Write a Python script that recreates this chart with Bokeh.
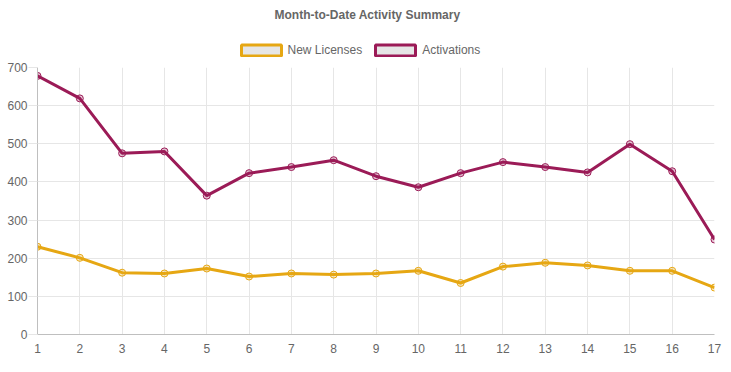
from bokeh.plotting import figure
from bokeh.models import (Range1d, SingleIntervalTicker, Legend, LegendItem, Title)
from bokeh.layouts import column
from bokeh.embed import file_html
from bokeh.resources import INLINE

# ---- data ----
days = [1, 2, 3, 4, 5, 6, 7, 8, 9, 10, 11, 12, 13, 14, 15, 16, 17]
new_licenses = [230, 201, 162, 160, 173, 152, 160, 157, 160, 167, 135, 178, 188, 181, 167, 167, 123]
activations = [678, 619, 475, 480, 364, 423, 439, 457, 415, 386, 423, 452, 439, 425, 499, 428, 249]
series_names = ["New Licenses", "Activations"]
title_text = "Month-to-Date Activity Summary"

LIC_C = "#e6a713"
ACT_C = "#9b1b57"
FONT = "Liberation Sans"
TXT = "#666666"

# ---- header: title + legend ----
header = figure(width=725, height=59, output_backend="svg", toolbar_location=None,
                x_range=Range1d(0, 725), y_range=Range1d(0, 59),
                x_axis_type=None, y_axis_type=None,
                min_border_left=0, min_border_right=0, min_border_top=25, min_border_bottom=0)
header.title = Title(text=title_text, align="left", offset=237, text_font=FONT,
                     text_font_size="12px", text_font_style="bold", text_color=TXT,
                     standoff=8)
header.outline_line_color = None
header.background_fill_color = "white"

q1 = header.quad(left=[-100], right=[-90], top=[-100], bottom=[-90], fill_color="#e6e6e6",
                 line_color=LIC_C, line_width=3)
q2 = header.quad(left=[-100], right=[-90], top=[-100], bottom=[-90], fill_color="#e6e6e6",
                 line_color=ACT_C, line_width=3)

legend = Legend(items=[LegendItem(label=series_names[0], renderers=[q1]),
                       LegendItem(label=series_names[1], renderers=[q2])],
                orientation="horizontal", location=(198.5, 2),
                glyph_width=50, glyph_height=14, label_height=14,
                label_standoff=2, spacing=8, padding=0, margin=0,
                border_line_color=None, background_fill_alpha=0,
                label_text_font=FONT, label_text_font_size="12px",
                label_text_color=TXT)
header.add_layout(legend, "center")

# ---- main chart ----
p = figure(width=725, height=307, output_backend="svg", toolbar_location=None,
           x_range=Range1d(1, 17), y_range=Range1d(0, 700),
           min_border_left=37, min_border_right=11, min_border_top=8, min_border_bottom=32)
p.outline_line_color = None
p.background_fill_color = "white"

p.xaxis.ticker = SingleIntervalTicker(interval=1)
p.yaxis.ticker = SingleIntervalTicker(interval=100)
p.xgrid.ticker = SingleIntervalTicker(interval=1)
p.ygrid.ticker = SingleIntervalTicker(interval=100)
p.xgrid.grid_line_color = "#e6e6e6"
p.ygrid.grid_line_color = "#e6e6e6"

for ax in (p.xaxis, p.yaxis):
    ax.axis_line_color = "#bfbfbf"
    ax.minor_tick_line_color = None
    ax.major_label_text_font = FONT
    ax.major_label_text_font_size = "12px"
    ax.major_label_text_color = TXT
    ax.major_tick_in = 0

p.yaxis.major_tick_out = 9
p.yaxis.major_tick_line_color = "#e6e6e6"
p.yaxis.major_label_standoff = 1
p.xaxis.major_tick_out = 0
p.xaxis.major_tick_line_color = None
p.xaxis.major_label_standoff = 5

p.line(days, activations, line_width=3, line_color=ACT_C)
p.scatter(days, activations, size=7, marker="circle", line_color=ACT_C,
          fill_color=ACT_C, fill_alpha=0.25, line_width=1)
p.line(days, new_licenses, line_width=3, line_color=LIC_C)
p.scatter(days, new_licenses, size=7, marker="circle", line_color=LIC_C,
          fill_color=LIC_C, fill_alpha=0.25, line_width=1)

layout = column(header, p, spacing=0)
open("out.html", "w").write(file_html(layout, INLINE))
